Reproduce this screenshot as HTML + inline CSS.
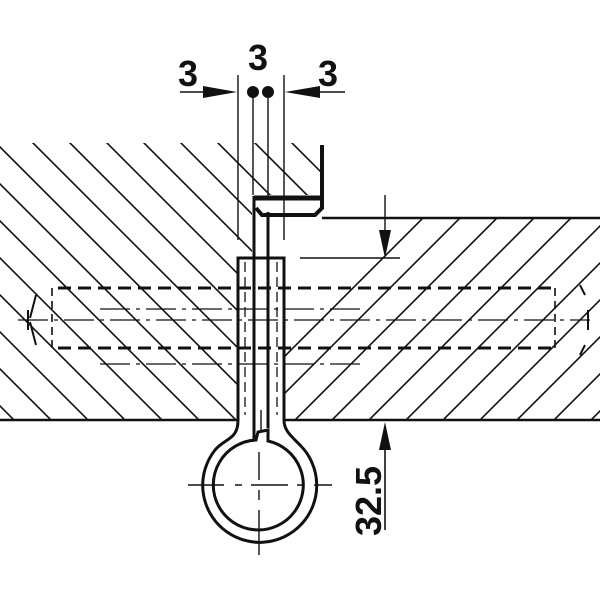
<!DOCTYPE html>
<html><head><meta charset="utf-8"><style>html,body{margin:0;padding:0;background:#fff;width:600px;height:600px;overflow:hidden}svg{display:block}</style></head>
<body>
<svg width="600" height="600" viewBox="0 0 600 600" xmlns="http://www.w3.org/2000/svg">
<defs>
<clipPath id="cl"><path d="M0,143 H320 V195 H252 V258 H238 V420 H0 Z"/></clipPath>
<clipPath id="cr"><path d="M285,218 H600 V420 H285 Z M268,220 H285 V258 H268 Z"/></clipPath>
</defs>
<g stroke="#111" stroke-width="1.6" fill="none">
<g clip-path="url(#cl)">
<path d="M-400,80 l600,600 M-363,80 l600,600 M-326,80 l600,600 M-289,80 l600,600 M-252,80 l600,600 M-215,80 l600,600 M-178,80 l600,600 M-141,80 l600,600 M-104,80 l600,600 M-67,80 l600,600 M-30,80 l600,600 M7,80 l600,600 M44,80 l600,600 M81,80 l600,600 M118,80 l600,600 M155,80 l600,600 M192,80 l600,600 M229,80 l600,600 M266,80 l600,600"/>
</g>
<g clip-path="url(#cr)">
<path d="M300,600 l500,-500 M263,600 l500,-500 M226,600 l500,-500 M189,600 l500,-500 M152,600 l500,-500 M115,600 l500,-500 M78,600 l500,-500 M337,600 l500,-500 M374,600 l500,-500 M411,600 l500,-500 M448,600 l500,-500 M485,600 l500,-500 M522,600 l500,-500 M559,600 l500,-500 M596,600 l500,-500 M41,600 l500,-500"/>
</g>
<path d="M0,420 H238 M284,420 H600" stroke-width="2.5"/>
<path d="M322,218 H600" stroke-width="2.5"/>
<path d="M238,75 V240 M253,88 V195 M268,88 V196 M284,75 V240" stroke-width="1.4"/>
<path d="M322,145 V208 L315,215 H262 L256,208" stroke-width="4"/>
<path d="M254,198 H322" stroke-width="5"/>
<path d="M254,196 V440 M268,212 V428" stroke-width="3"/>
<path d="M261,432 V410" stroke-width="1.4"/>
<path d="M238,420 V258 H284 V420" stroke-width="3"/>
<path d="M238,420 C238,440 225,438 215,450 A57,57 0 1 0 300,445 C290,435 284,430 284,420" stroke-width="3"/>
<path d="M256,440 A45,45 0 1 0 268,441 L268,430 L258,432 Z" stroke-width="3"/>
<path d="M188,485 H224 M235,485 H242 M251,485 H288 M297,485 H304 M314,485 H332" stroke-width="1.4"/>
<path d="M259,452 V480 M259,490 V500 M259,510 V555" stroke-width="1.4"/>
<path d="M58,288 H555 M58,348 H555" stroke-width="3" stroke-dasharray="13,7"/>
<path d="M52,288 V348 M555,288 V348" stroke-width="1.6" stroke-dasharray="8,5"/>
<path d="M30,318 L36,295 M30,322 L36,345 M585,295 L580,285 M585,345 L580,355 M28,310 V330 M588,310 V330" stroke-width="2"/>
<path d="M100,309 H360 M18,320 H590 M100,364 H360" stroke-width="1.3" stroke-dasharray="30,6,4,6"/>
<path d="M245,262 V415 M277,262 V415" stroke-width="1.3" stroke-dasharray="10,5"/>
<path d="M385,195 V245 M300,258 H400" stroke-width="1.4"/>
<path d="M385,530 V440" stroke-width="1.6"/>
<path d="M180,92 H205 M290,92 H345" stroke-width="1.6"/>
</g>
<g fill="#111">
<polygon points="385,258 379,230 391,230"/>
<polygon points="385,422 379,450 391,450"/>
<polygon points="237,92 203,86 203,98"/>
<polygon points="285,92 320,86 320,98"/>
<circle cx="253" cy="92" r="6"/>
<circle cx="268" cy="92" r="6"/>
</g>
<g font-family="Liberation Sans, sans-serif" font-weight="bold" font-size="36" fill="#111">
<text x="178" y="86">3</text>
<text x="248" y="70">3</text>
<text x="318" y="86">3</text>
<text transform="translate(381,536) rotate(-90)">32.5</text>
</g>
</svg>
</body></html>
